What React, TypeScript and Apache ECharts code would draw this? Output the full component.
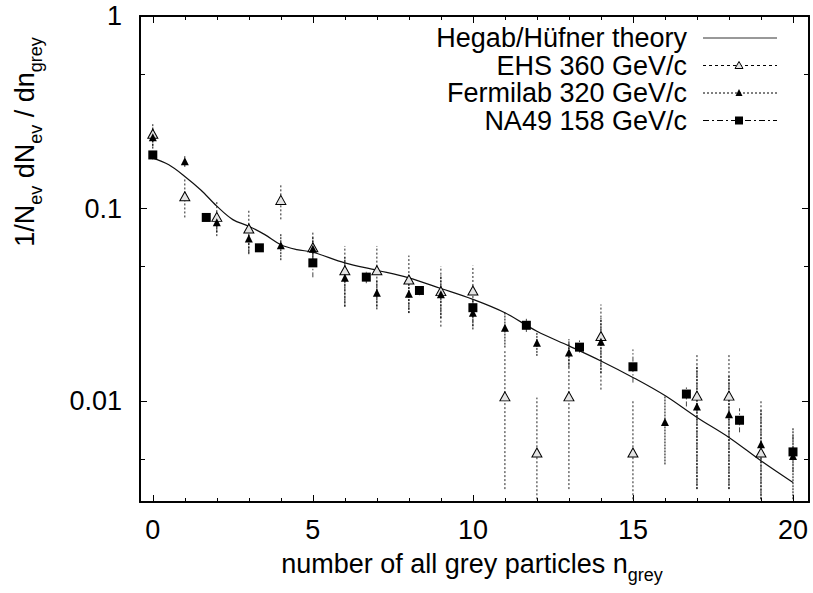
import React, { useEffect, useRef } from "react";
import * as echarts from "echarts";

// ---------- data ----------
const theoryX = [0, 0.5, 1, 1.5, 2, 2.5, 3, 3.5, 4, 4.5, 5, 6, 7, 8, 9, 10, 11, 12, 13, 14, 15, 16, 17, 18, 19, 20];
const theoryY = [0.183, 0.169, 0.147, 0.125, 0.103, 0.0877, 0.081, 0.0733, 0.065, 0.0613, 0.0594, 0.0523, 0.0479, 0.0437, 0.0385, 0.0338, 0.0288, 0.0231, 0.0194, 0.0162, 0.0133, 0.0107, 0.00824, 0.00649, 0.00491, 0.00379];

const ehsX = [0, 1, 2, 3, 4, 5, 6, 7, 8, 9, 10, 11, 12, 13, 14, 15, 17, 18, 19];
const ehsY = [0.245, 0.116, 0.0906, 0.0788, 0.111, 0.063, 0.0479, 0.0479, 0.0429, 0.0373, 0.0376, 0.0106, 0.00542, 0.0106, 0.0218, 0.00542, 0.0107, 0.0107, 0.00542];
const ehsLo = [0.211, 0.09, 0.072, 0.059, 0.088, 0.05, 0.031, 0.031, 0.0287, 0.0244, 0.0246, 0.0035, 0.0031, 0.0035, 0.0115, 0.0031, 0.0035, 0.0035, 0.0031];
const ehsHi = [0.279, 0.142, 0.109, 0.099, 0.133, 0.076, 0.064, 0.064, 0.0571, 0.0502, 0.0506, 0.0182, 0.01045, 0.0205, 0.0318, 0.0102, 0.0175, 0.0175, 0.0102];

const fermiX = [0, 1, 2, 3, 4, 5, 6, 7, 8, 9, 10, 11, 12, 13, 14, 16, 17, 18, 19, 20];
const fermiY = [0.235, 0.176, 0.085, 0.07, 0.0645, 0.062, 0.0438, 0.0366, 0.0362, 0.0359, 0.0288, 0.0241, 0.0201, 0.0179, 0.0204, 0.00781, 0.0094, 0.00857, 0.00599, 0.0052];
const fermiLo = [0.205, 0.165, 0.075, 0.058, 0.054, 0.052, 0.031, 0.03, 0.0287, 0.027, 0.0236, 0.019, 0.0172, 0.015, 0.014, 0.0047, 0.0035, 0.0035, 0.0031, 0.0031];
const fermiHi = [0.265, 0.187, 0.096, 0.082, 0.0742, 0.072, 0.056, 0.043, 0.044, 0.045, 0.034, 0.029, 0.023, 0.021, 0.027, 0.0107, 0.0153, 0.0137, 0.009, 0.0073];

const na49X = [0, 1.67, 3.33, 5, 6.67, 8.33, 10, 11.67, 13.33, 15, 16.67, 18.33, 20];
const na49Y = [0.19, 0.09, 0.0626, 0.0523, 0.0441, 0.0376, 0.0306, 0.0248, 0.0191, 0.0151, 0.0109, 0.00797, 0.00546];
const na49Lo = [0.18, 0.086, 0.06, 0.044, 0.041, 0.0355, 0.0285, 0.0229, 0.0179, 0.0125, 0.0094, 0.0069, 0.0043];
const na49Hi = [0.2, 0.094, 0.065, 0.061, 0.047, 0.0397, 0.0327, 0.0268, 0.0207, 0.0186, 0.012, 0.0092, 0.0068];

const xMajorTicks = [0, 5, 10, 15, 20];
const xMinorTicks = [1, 2, 3, 4, 6, 7, 8, 9, 11, 12, 13, 14, 16, 17, 18, 19];
const yMajorTicks = [0.01, 0.1, 1];
const yMinorTicks = [0.005, 0.05, 0.5];

const legendLabels = ["Hegab/Hüfner theory", "EHS 360 GeV/c", "Fermilab 320 GeV/c", "NA49 158 GeV/c"];

const FONT = "'Liberation Sans', Arial, Helvetica, sans-serif";

function zip2(a: number[], b: number[]) {
  return a.map((v, i) => [v, b[i]]);
}
function zip3(a: number[], b: number[], c: number[]) {
  return a.map((v, i) => [v, b[i], c[i]]);
}

function errorBarSeries(data: number[][], color: string, dash: number[], name: string) {
  return {
    type: "custom",
    name,
    xAxisIndex: 0,
    yAxisIndex: 0,
    clip: true,
    z: 3,
    encode: { x: 0, y: [1, 2] },
    data,
    renderItem: (params: any, api: any) => {
      const x = api.value(0);
      const p1 = api.coord([x, api.value(1)]);
      const p2 = api.coord([x, api.value(2)]);
      return {
        type: "line",
        shape: { x1: p1[0], y1: p1[1], x2: p2[0], y2: p2[1] },
        style: { stroke: color, lineWidth: 1, lineDash: dash },
      };
    },
  };
}

export default function App() {
  const ref = useRef<HTMLDivElement>(null);

  useEffect(() => {
    if (!ref.current) return;
    const chart = echarts.init(ref.current, undefined, { renderer: "svg" });

    const axisLine = { show: true, onZero: false, lineStyle: { color: "#000", width: 1.5 } };
    const baseX = {
      type: "value",
      min: -0.4,
      max: 20.5,
      gridIndex: 0,
      splitLine: { show: false },
      axisLine,
    };
    const baseY = {
      type: "log",
      logBase: 10,
      min: 0.003,
      max: 1,
      gridIndex: 0,
      splitLine: { show: false },
      axisLine,
    };
    const tick = (len: number, vals: number[]) => ({
      show: true,
      inside: true,
      length: len,
      customValues: vals,
      lineStyle: { color: "#000", width: 1 },
    });
    const labelStyle = { color: "#000", fontSize: 27, fontFamily: FONT };

    const rowsY = [38, 65.5, 93, 120.5];
    const lx1 = 703;
    const lx2 = 777;
    const lmx = 739;

    const graphic: any[] = [];
    // axis titles
    graphic.push({
      type: "text",
      x: 472,
      y: 575,
      style: {
        text: "{n|number of all grey particles n}{s|grey}",
        align: "center",
        verticalAlign: "middle",
        textAlign: "center",
        textVerticalAlign: "middle",
        fill: "#000",
        rich: {
          n: { fontSize: 27, lineHeight: 27, verticalAlign: "top", fontFamily: FONT, fill: "#000" },
          s: { fontSize: 18, lineHeight: 50, verticalAlign: "middle", fontFamily: FONT, fill: "#000" },
        },
      },
    });
    graphic.push({
      type: "text",
      x: 36,
      y: 142,
      rotation: Math.PI / 2,
      style: {
        text: "{n|1/N}{s|ev}{n| dN}{s|ev}{n| / dn}{s|grey}",
        align: "center",
        verticalAlign: "middle",
        textAlign: "center",
        textVerticalAlign: "middle",
        fill: "#000",
        rich: {
          n: { fontSize: 27, lineHeight: 27, verticalAlign: "top", fontFamily: FONT, fill: "#000" },
          s: { fontSize: 18, lineHeight: 50, verticalAlign: "middle", fontFamily: FONT, fill: "#000" },
        },
      },
    });
    // legend
    const dashes = [[], [3, 3], [2, 2], [6, 3, 2, 3]];
    legendLabels.forEach((lab, i) => {
      const y = rowsY[i];
      graphic.push({
        type: "text",
        x: 687,
        y,
        style: {
          text: lab,
          fontSize: 27,
          fontFamily: FONT,
          fill: "#000",
          align: "right",
          verticalAlign: "middle",
          textAlign: "right",
          textVerticalAlign: "middle",
        },
      });
      graphic.push({
        type: "line",
        shape: { x1: lx1, y1: y, x2: lx2, y2: y },
        style: { stroke: i === 0 ? "#333" : "#000", lineWidth: 1, lineDash: dashes[i] },
      });
    });
    graphic.push({
      type: "polygon",
      shape: { points: [[lmx, rowsY[1] - 4], [lmx - 4, rowsY[1] + 3], [lmx + 4, rowsY[1] + 3]] },
      style: { fill: "#e4e4e4", stroke: "#000", lineWidth: 1 },
      z: 10,
    });
    graphic.push({
      type: "polygon",
      shape: { points: [[lmx, rowsY[2] - 4], [lmx - 3.5, rowsY[2] + 3], [lmx + 3.5, rowsY[2] + 3]] },
      style: { fill: "#000" },
      z: 10,
    });
    graphic.push({
      type: "rect",
      shape: { x: lmx - 4, y: rowsY[3] - 4, width: 8, height: 8 },
      style: { fill: "#000" },
      z: 10,
    });

    chart.setOption({
      animation: false,
      backgroundColor: "#fff",
      grid: {
        left: 140,
        top: 16,
        right: 4,
        bottom: 91,
        show: true,
        borderColor: "#000",
        borderWidth: 1.5,
        containLabel: false,
        outerBoundsMode: "none",
      },
      xAxis: [
        {
          ...baseX,
          position: "bottom",
          axisTick: tick(7, xMajorTicks),
          axisLabel: { ...labelStyle, customValues: xMajorTicks, margin: 14 },
        },
        { ...baseX, position: "bottom", axisTick: tick(4, xMinorTicks), axisLabel: { show: false } },
        { ...baseX, position: "top", axisTick: tick(7, xMajorTicks), axisLabel: { show: false } },
        { ...baseX, position: "top", axisTick: tick(4, xMinorTicks), axisLabel: { show: false } },
      ],
      yAxis: [
        {
          ...baseY,
          position: "left",
          axisTick: tick(7, yMajorTicks),
          axisLabel: {
            ...labelStyle,
            customValues: yMajorTicks,
            margin: 18,
            formatter: (v: number) => String(v),
          },
        },
        { ...baseY, position: "left", axisTick: tick(5, yMinorTicks), axisLabel: { show: false } },
        { ...baseY, position: "right", axisTick: tick(7, yMajorTicks), axisLabel: { show: false } },
        { ...baseY, position: "right", axisTick: tick(5, yMinorTicks), axisLabel: { show: false } },
      ],
      series: [
        errorBarSeries(zip3(ehsX, ehsLo, ehsHi), "#222", [2, 2], "EHS err"),
        errorBarSeries(zip3(fermiX, fermiLo, fermiHi), "#000", [2, 1], "Fermilab err"),
        errorBarSeries(zip3(na49X, na49Lo, na49Hi), "#444", [5, 2, 1.5, 2], "NA49 err"),
        {
          type: "line",
          name: "Hegab/Hüfner theory",
          data: zip2(theoryX, theoryY),
          smooth: 0.35,
          showSymbol: false,
          symbol: "none",
          lineStyle: { color: "#111", width: 1.2 },
          z: 4,
        },
        {
          type: "scatter",
          name: "EHS 360 GeV/c",
          data: zip2(ehsX, ehsY),
          symbol: "triangle",
          symbolSize: [10, 9],
          itemStyle: { color: "#e4e4e4", borderColor: "#000", borderWidth: 1, opacity: 1 },
          z: 5,
        },
        {
          type: "scatter",
          name: "Fermilab 320 GeV/c",
          data: zip2(fermiX, fermiY),
          symbol: "triangle",
          symbolSize: [8, 8],
          itemStyle: { color: "#000", opacity: 1 },
          z: 6,
        },
        {
          type: "scatter",
          name: "NA49 158 GeV/c",
          data: zip2(na49X, na49Y),
          symbol: "rect",
          symbolSize: 9,
          itemStyle: { color: "#000", opacity: 1 },
          z: 7,
        },
      ],
      graphic,
    });

    return () => chart.dispose();
  }, []);

  return (
    <div
      ref={ref}
      style={{ position: "fixed", left: 0, top: 0, width: 813, height: 593, background: "#fff" }}
    />
  );
}
